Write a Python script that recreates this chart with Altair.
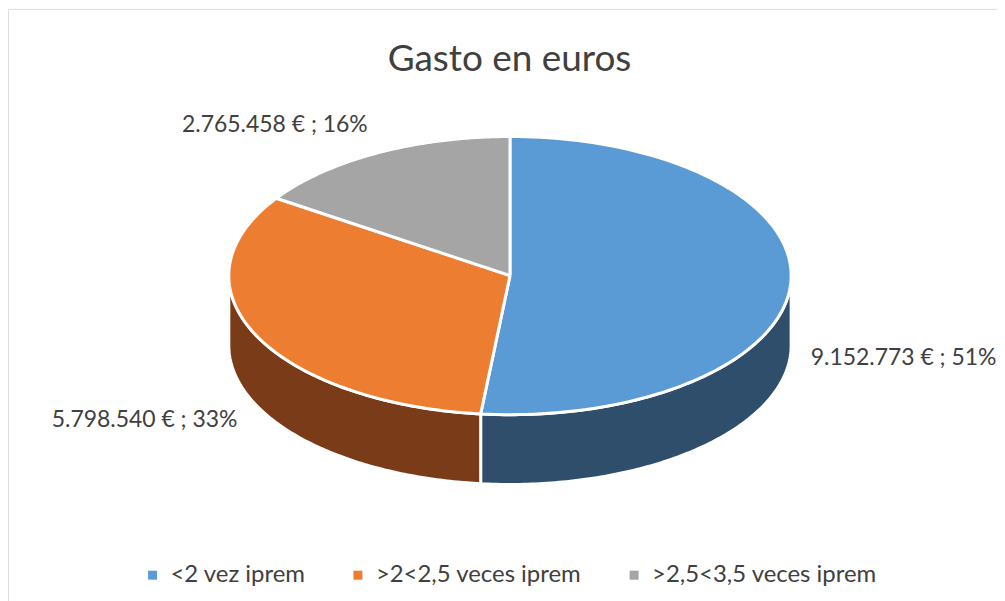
import altair as alt
import pandas as pd

# ---- data ----
categories = ["<2 vez iprem", ">2<2,5 veces iprem", ">2,5<3,5 veces iprem"]
values = [9152773, 5798540, 2765458]
labels = ["9.152.773 € ; 51%", "5.798.540 € ; 33%", "2.765.458 € ; 16%"]
order_idx = [0, 1, 2]

# ---- styles ----
TOP_COLORS = ["#5B9BD5", "#ED7D31", "#A5A5A5"]
SIDE_COLORS = ["#2E4E6B", "#7A3C18", "#6E6E6E"]
FONT = "Lato"
TXT = "#404040"

# ---- geometry of the tilted pie (pixels) ----
RX, RY, DEPTH = 282, 139.5, 70
N = 120
W, H = 992, 600
CX, CY = 503.5, 267.5

df = pd.DataFrame({"cat": categories, "value": values, "label": labels, "idx": order_idx})

xs = alt.Scale(domain=[-CX, W - CX])
ys = alt.Scale(domain=[-CY, H - CY], reverse=True)

base = (
    alt.Chart(df)
    .transform_joinaggregate(total="sum(value)")
    .transform_window(cum="sum(value)", sort=[alt.SortField("idx")], frame=[None, 0])
    .transform_calculate(
        a0="2*PI*(datum.cum - datum.value)/datum.total",
        a1="2*PI*datum.cum/datum.total",
    )
)

# side walls (front half only)
walls = (
    base.transform_calculate(b0="max(datum.a0, PI/2)", b1="min(datum.a1, 3*PI/2)")
    .transform_filter("datum.b1 > datum.b0")
    .transform_calculate(ks=f"sequence(0, {N + 1})")
    .transform_flatten(["ks"], as_=["k"])
    .transform_calculate(t=f"datum.b0 + (datum.b1 - datum.b0) * datum.k / {N}")
    .transform_calculate(
        px=f"{RX} * sin(datum.t)",
        ytop=f"-{RY} * cos(datum.t)",
        ybot=f"-{RY} * cos(datum.t) + {DEPTH}",
    )
    .mark_area(stroke="white", strokeWidth=3, strokeJoin="round")
    .encode(
        x=alt.X("px:Q", scale=xs, axis=None),
        y=alt.Y("ytop:Q", scale=ys, axis=None),
        y2="ybot:Q",
        fill=alt.Fill("idx:O", scale=alt.Scale(domain=order_idx, range=SIDE_COLORS), legend=None),
        detail="cat:N",
    )
)

# top face slices
top = (
    base.transform_calculate(ks=f"sequence(-1, {N + 2})")
    .transform_flatten(["ks"], as_=["k"])
    .transform_calculate(
        t=f"datum.a0 + (datum.a1 - datum.a0) * clamp(datum.k, 0, {N}) / {N}",
        edge=f"(datum.k >= 0 && datum.k <= {N}) ? 1 : 0",
    )
    .transform_calculate(
        px=f"datum.edge * {RX} * sin(datum.t)",
        py=f"-datum.edge * {RY} * cos(datum.t)",
    )
    .mark_line(filled=True, stroke="white", strokeWidth=3, strokeJoin="round")
    .encode(
        x=alt.X("px:Q", scale=xs, axis=None),
        y=alt.Y("py:Q", scale=ys, axis=None),
        color=alt.Color(
            "cat:N",
            scale=alt.Scale(domain=categories, range=TOP_COLORS),
            legend=alt.Legend(
                orient="none",
                legendX=133,
                legendY=556,
                direction="horizontal",
                title=None,
                symbolType="square",
                symbolSize=81,
                symbolStrokeWidth=0,
                labelFont=FONT,
                labelFontSize=24,
                labelColor=TXT,
                labelOffset=6,
                labelLimit=0,
                columnPadding=40,
                padding=0,
            ),
        ),
        order="k:Q",
        detail="cat:N",
    )
)

lab_base = base.transform_calculate(am="(datum.a0 + datum.a1) / 2").transform_calculate(
    lx=f"{RX} * sin(datum.am)", ly=f"-{RY} * cos(datum.am)"
)


def label_layer(i, align, dx, dy):
    return (
        lab_base.transform_filter(f"datum.idx == {i}")
        .mark_text(align=align, baseline="middle", dx=dx, dy=dy, font=FONT, fontSize=23, color=TXT)
        .encode(
            x=alt.X("lx:Q", scale=xs, axis=None),
            y=alt.Y("ly:Q", scale=ys, axis=None),
            text="label:N",
        )
    )


labels_layers = [
    label_layer(0, "left", 20, 75),
    label_layer(1, "right", -18, 86),
    label_layer(2, "center", -103, -28),
]

chart = (
    alt.layer(walls, top, *labels_layers)
    .properties(
        width=W,
        height=H,
        padding=0,
        autosize=alt.AutoSizeParams(type="none"),
        title=alt.TitleParams(
            "Gasto en euros",
            font=FONT,
            fontSize=37,
            fontWeight="normal",
            color=TXT,
            anchor="middle",
            offset=-70,
            dx=7,
        ),
    )
    .configure_view(stroke="#D9D9D9", strokeWidth=1)
    .configure(background="white")
)

chart.save("out.html", embed_options={"renderer": "svg", "actions": False})
